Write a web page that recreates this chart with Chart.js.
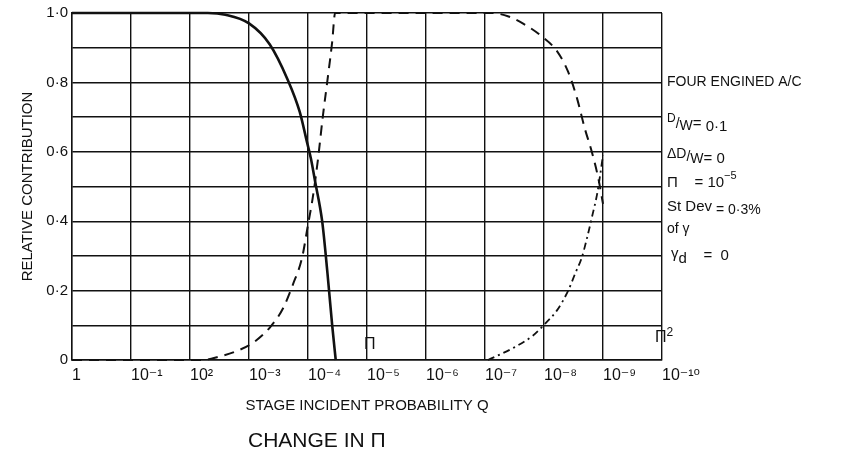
<!DOCTYPE html>
<html>
<head>
<meta charset="utf-8">
<script src="https://cdn.jsdelivr.net/npm/chart.js@4"></script>
<style>
  html, body { margin: 0; padding: 0; background: #fff; }
  #wrap { width: 860px; height: 456px; }
</style>
</head>
<body>
<div id="wrap"><canvas id="chart" width="860" height="456"></canvas></div>
<script>
// x is the decade exponent: Q = 10^-x
const xTickLabels = ['1', '10⁻¹', '10²', '10⁻³', '10⁻⁴', '10⁻⁵', '10⁻⁶', '10⁻⁷', '10⁻⁸', '10⁻⁹', '10⁻¹⁰'];
const yTickLabels = ['0', '', '0·2', '', '0·4', '', '0·6', '', '0·8', '', '1·0'];

// Solid curve
const solidX = [0, 2.3, 2.6, 3.0, 3.35, 3.65, 3.86, 3.98, 4.05, 4.12, 4.24, 4.33, 4.41, 4.47];
const solidY = [1, 1, 0.995, 0.97, 0.91, 0.81, 0.715, 0.63, 0.58, 0.515, 0.40, 0.25, 0.10, 0];

// Dashed curve
const dashX = [0, 2.2, 2.5, 2.75, 3.07, 3.36, 3.58, 3.75, 3.9, 4.0, 4.08, 4.17, 4.25, 4.34, 4.41, 4.46,
               7.1, 7.4, 7.64, 7.93, 8.22, 8.41, 8.56, 8.69, 8.81, 8.92, 9.0];
const dashY = [0, 0, 0.01, 0.023, 0.05, 0.095, 0.15, 0.22, 0.295, 0.39, 0.467, 0.58, 0.70, 0.82, 0.917, 1.0,
               1.0, 0.99, 0.97, 0.937, 0.89, 0.83, 0.754, 0.668, 0.60, 0.524, 0.45];

// Dash-dot curve
const dotX = [7.05, 7.47, 7.81, 8.02, 8.22, 8.41, 8.53, 8.64, 8.73, 8.81, 8.9, 8.94, 9.0];
const dotY = [0, 0.034, 0.07, 0.105, 0.143, 0.2, 0.25, 0.295, 0.352, 0.41, 0.478, 0.52, 0.59];

const FONT = "'Liberation Sans', 'DejaVu Sans', sans-serif";
const INK = '#111';

function toPoints(xs, ys) {
    return xs.map((x, i) => ({ x: x, y: ys[i] }));
}

// draws a row of text pieces with their own size and vertical shift
function drawRuns(ctx, x, y, runs) {
    runs.forEach(r => {
        ctx.font = r[1] + 'px ' + FONT;
        ctx.fillText(r[0], x, y + r[2]);
        x += ctx.measureText(r[0]).width;
    });
}

const notesPlugin = {
    id: 'notes',
    afterDraw(chart) {
        const ctx = chart.ctx;
        const xs = chart.scales.x;
        const ys = chart.scales.y;
        ctx.save();
        ctx.fillStyle = INK;
        ctx.textBaseline = 'middle';
        ctx.textAlign = 'left';

        // marks inside the plot
        drawRuns(ctx, xs.getPixelForValue(5) - 3, ys.getPixelForValue(0.045), [['Π', 16, 0]]);
        drawRuns(ctx, xs.getPixelForValue(10) - 7, ys.getPixelForValue(0.065), [['Π', 16, 0], ['2', 12, -5]]);

        // second caption under the axis
        ctx.font = '21px ' + FONT;
        ctx.fillText('CHANGE IN Π', 248, 441);

        // side notes
        const nx = 667;
        drawRuns(ctx, nx, 82, [['FOUR ENGINED A/C', 14, 0]]);
        drawRuns(ctx, nx, 124, [['D', 12, -5], ['/', 14, 0], ['W', 14, 2], ['= ', 15, 0], ['0·1', 15, 3]]);
        drawRuns(ctx, nx, 157, [['ΔD', 14, -3], ['/', 14, 0], ['W', 14, 2], ['= 0', 15, 2]]);
        drawRuns(ctx, nx, 183, [['Π', 15, 0], ['    = 10', 15, 0], ['−5', 11, -7]]);
        drawRuns(ctx, nx, 209, [['St Dev', 15, -2], [' = 0·3%', 14, 1]]);
        drawRuns(ctx, nx, 229, [['of γ', 14, 0]]);
        drawRuns(ctx, nx + 4, 256, [['γ', 15, -2], ['d', 15, 3], ['    =  0', 15, 0]]);
        ctx.restore();
    }
};

const ctx = document.getElementById('chart').getContext('2d');
const chart = new Chart(ctx, {
    type: 'line',
    data: {
        datasets: [{
            label: 'solid',
            data: toPoints(solidX, solidY),
            borderColor: INK,
            borderWidth: 2.6,
            pointRadius: 0,
            fill: false,
            clip: false,
            cubicInterpolationMode: 'monotone'
        }, {
            label: 'dashed',
            data: toPoints(dashX, dashY),
            borderColor: INK,
            borderWidth: 2,
            borderDash: [10, 7],
            pointRadius: 0,
            fill: false,
            clip: false,
            cubicInterpolationMode: 'monotone'
        }, {
            label: 'dash-dot',
            data: toPoints(dotX, dotY),
            borderColor: INK,
            borderWidth: 1.8,
            borderDash: [7, 4, 2, 4],
            pointRadius: 0,
            fill: false,
            clip: false,
            cubicInterpolationMode: 'monotone'
        }]
    },
    options: {
        responsive: false,
        animation: false,
        layout: { padding: { left: 0, right: 198, top: 11, bottom: 0 } },
        plugins: {
            legend: { display: false },
            tooltip: { enabled: false }
        },
        scales: {
            x: {
                type: 'linear',
                min: 0,
                max: 10,
                afterFit: s => { s.height = 96; },
                grid: { color: INK, lineWidth: 1.4, drawTicks: false },
                border: { color: INK, width: 1.4 },
                ticks: {
                    stepSize: 1,
                    align: 'start',
                    padding: 6,
                    color: INK,
                    maxRotation: 0,
                    autoSkip: false,
                    font: { family: FONT, size: 16 },
                    callback: v => xTickLabels[Math.round(v)]
                },
                title: {
                    display: true,
                    text: 'STAGE INCIDENT PROBABILITY Q',
                    color: INK,
                    font: { family: FONT, size: 15 },
                    padding: { top: 0, bottom: 41 }
                }
            },
            y: {
                min: 0,
                max: 1,
                afterFit: s => { s.width = 72; },
                grid: { color: INK, lineWidth: 1.4, drawTicks: false },
                border: { color: INK, width: 1.4 },
                ticks: {
                    stepSize: 0.1,
                    padding: 4,
                    color: INK,
                    font: { family: FONT, size: 15 },
                    callback: v => yTickLabels[Math.round(v * 10)]
                },
                title: {
                    display: true,
                    text: 'RELATIVE CONTRIBUTION',
                    color: INK,
                    font: { family: FONT, size: 15 },
                    padding: { top: 19, bottom: 0 }
                }
            }
        }
    },
    plugins: [notesPlugin]
});
</script>
</body>
</html>
